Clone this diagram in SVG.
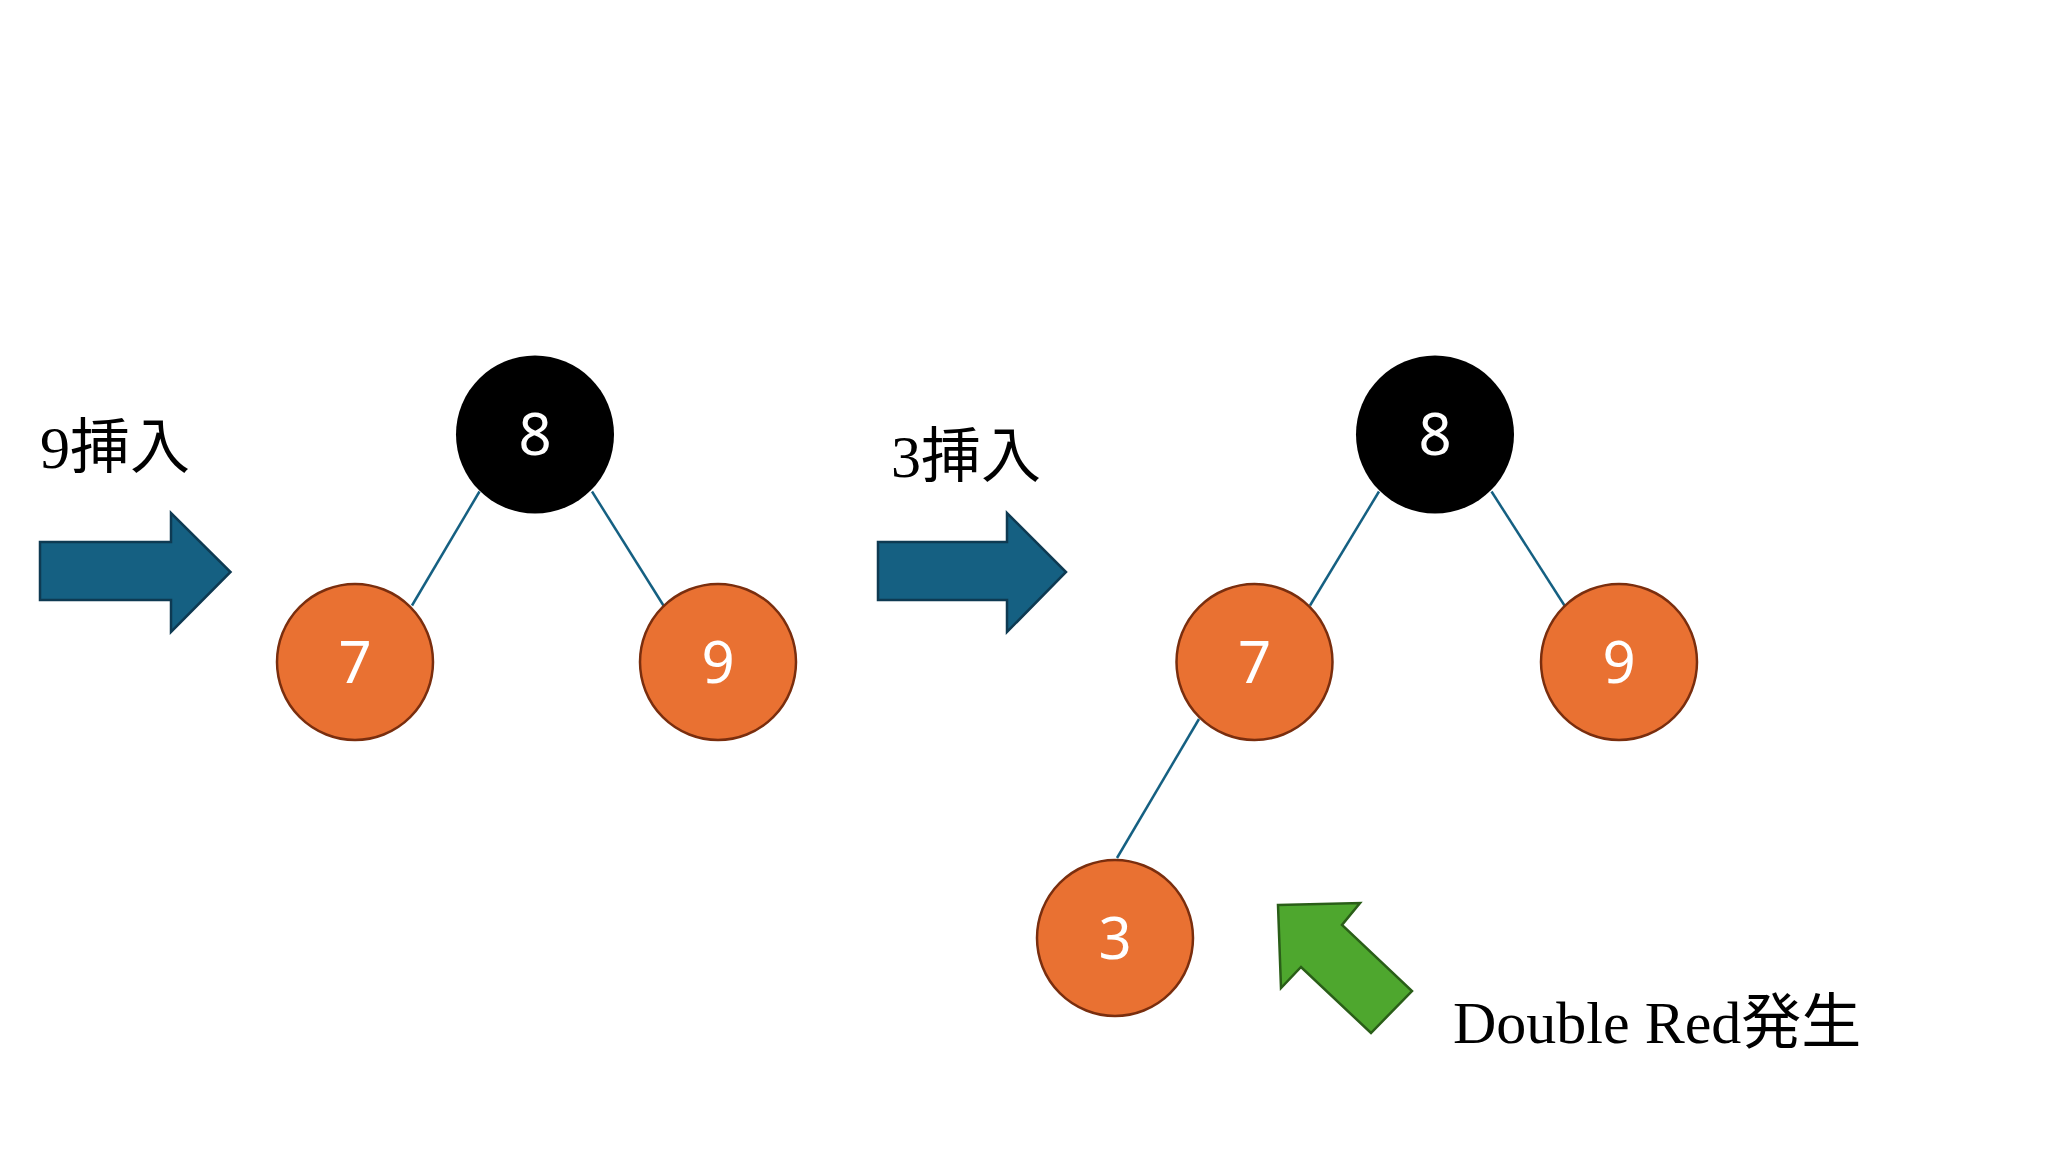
<svg xmlns="http://www.w3.org/2000/svg" width="2048" height="1152" viewBox="0 0 2048 1152">
<style>
.b{fill:#000}
.r{fill:#E97132;stroke:#7a2e0e;stroke-width:2.5}
.n{font-family:"Noto Sans","Liberation Sans",sans-serif;font-size:58px;fill:#fff;text-anchor:middle}
.l{font-family:"Liberation Serif","Noto Sans CJK JP",serif;font-size:60px;fill:#000}
.e{stroke:#156082;stroke-width:2.5}
.ba{fill:#156082;stroke:#0e3a52;stroke-width:2.5}
</style>
<rect width="2048" height="1152" fill="#fff"/>
<g id="connectors">
<line class="e" x1="479.5" y1="491.5" x2="412" y2="605.5"/>
<line class="e" x1="592" y1="491.5" x2="663.5" y2="605.5"/>
<line class="e" x1="1379" y1="491.5" x2="1310" y2="605.5"/>
<line class="e" x1="1491.5" y1="491.5" x2="1564.5" y2="605.5"/>
<line class="e" x1="1199" y1="719" x2="1117" y2="858"/>
</g>
<g id="n8a"><circle class="b" cx="535" cy="434.5" r="79"/><text class="n" x="535" y="455">8</text></g>
<g id="n7a"><circle class="r" cx="355" cy="662" r="78"/><text class="n" x="355" y="683">7</text></g>
<g id="n9a"><circle class="r" cx="718" cy="662" r="78"/><text class="n" x="718" y="683">9</text></g>
<g id="n8b"><circle class="b" cx="1435" cy="434.5" r="79"/><text class="n" x="1435" y="455">8</text></g>
<g id="n7b"><circle class="r" cx="1254.5" cy="662" r="78"/><text class="n" x="1254.5" y="683">7</text></g>
<g id="n9b"><circle class="r" cx="1619" cy="662" r="78"/><text class="n" x="1619" y="683">9</text></g>
<g id="n3"><circle class="r" cx="1115" cy="938" r="78"/><text class="n" x="1115" y="959">3</text></g>
<g id="arrow1"><polygon class="ba" points="40,542 171,542 171,513 230.5,572 171,632 171,600 40,600"/></g>
<g id="arrow2"><polygon class="ba" points="878,542 1007,542 1007,513 1066,572 1007,632 1007,600 878,600"/></g>
<g id="arrow3"><polygon fill="#4EA72E" stroke="#2a5e18" stroke-width="2.5" points="1278,905 1360,903 1342,925 1412,991 1371,1033 1301,967 1281,988"/></g>
<g id="label1"><text class="l" x="40" y="468">9挿入</text></g>
<g id="label2"><text class="l" x="891" y="477">3挿入</text></g>
<g id="label3"><text class="l" x="1453" y="1043">Double Red発生</text></g>
</svg>
